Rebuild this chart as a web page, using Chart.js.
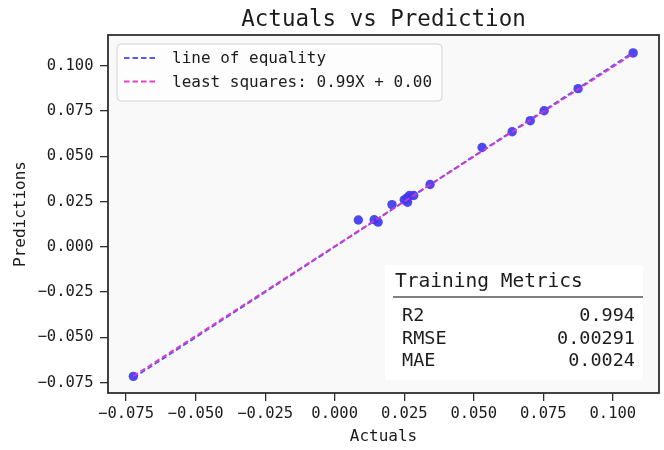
<!DOCTYPE html>
<html>
<head>
<meta charset="utf-8">
<script src="https://cdn.jsdelivr.net/npm/chart.js@4"></script>
<style>
  html, body { margin: 0; padding: 0; background: #ffffff; }
  #wrap { width: 664px; height: 450px; }
</style>
</head>
<body>
<div id="wrap"><canvas id="c" width="664" height="450"></canvas></div>
<script>
// ---- data ----
const actuals = [-0.0724, 0.0085, 0.0142, 0.0156, 0.0206, 0.0250, 0.0260, 0.0262, 0.0269, 0.0284, 0.0343, 0.0530, 0.0638, 0.0703, 0.0753, 0.0875, 0.1073];
const predictions = [-0.0715, 0.0148, 0.0149, 0.0136, 0.0233, 0.0259, 0.0270, 0.0246, 0.0283, 0.0283, 0.0344, 0.0548, 0.0635, 0.0696, 0.0751, 0.0873, 0.1070];
const lineX = [-0.0724, 0.1073];
const equalityY = [-0.0724, 0.1073];
const leastSquaresY = [-0.0714, 0.1065];
const xTicks = [-0.075, -0.050, -0.025, 0.000, 0.025, 0.050, 0.075, 0.100];
const yTicks = [-0.075, -0.050, -0.025, 0.000, 0.025, 0.050, 0.075, 0.100];
const xRange = [-0.0815, 0.1166];
const yRange = [-0.0807, 0.1169];
const seriesLabels = ['line of equality', 'least squares: 0.99X + 0.00'];
const metricsTitle = 'Training Metrics';
const metricNames = ['R2', 'RMSE', 'MAE'];
const metricValues = ['0.994', '0.00291', '0.0024'];

const MONO = '"DejaVu Sans Mono", monospace';
const TEXT = '#1c1c1c';
const SPINE = '#2e2e2e';
const colEq = 'rgba(72,72,238,0.9)';
const colLs = 'rgba(222,50,200,0.92)';
const colPts = 'rgba(62,56,238,0.92)';

function fmt(v) {
  const s = Math.abs(v).toFixed(3);
  return (v < -1e-9 ? '\u2212' : '') + s;
}

const framePlugin = {
  id: 'frame',
  beforeDatasetsDraw(chart) {
    const {ctx, chartArea: a} = chart;
    ctx.save();
    ctx.fillStyle = '#f9f9f9';
    ctx.fillRect(a.left, a.top, a.right - a.left, a.bottom - a.top);
    ctx.restore();
  },
  afterDatasetsDraw(chart) {
    const {ctx, chartArea: a} = chart;
    ctx.save();
    // spines
    ctx.strokeStyle = SPINE;
    ctx.lineWidth = 1.8;
    ctx.strokeRect(a.left, a.top, a.right - a.left, a.bottom - a.top);

    // legend box
    const lx = a.left + 9, ly = a.top + 9, lw = 325, lh = 57;
    ctx.beginPath();
    if (ctx.roundRect) ctx.roundRect(lx, ly, lw, lh, 4); else ctx.rect(lx, ly, lw, lh);
    ctx.fillStyle = 'rgba(253,253,253,0.9)';
    ctx.fill();
    ctx.strokeStyle = '#d4d4d4';
    ctx.lineWidth = 1;
    ctx.stroke();
    const ds = chart.data.datasets;
    const rows = [ds[1], ds[2]];
    ctx.font = '16px ' + MONO;
    ctx.textBaseline = 'middle';
    ctx.textAlign = 'left';
    rows.forEach((d, i) => {
      const yy = ly + 14 + i * 23.5;
      ctx.beginPath();
      ctx.setLineDash([5.5, 3]);
      ctx.strokeStyle = d.borderColor;
      ctx.lineWidth = 1.8;
      ctx.moveTo(lx + 7, yy);
      ctx.lineTo(lx + 41, yy);
      ctx.stroke();
      ctx.setLineDash([]);
      ctx.fillStyle = TEXT;
      ctx.fillText(d.label, lx + 55, yy + 1);
    });

    // metrics table
    const tx = 385, ty = 265, tw = 258, th = 115;
    ctx.fillStyle = '#ffffff';
    ctx.fillRect(tx, ty, tw, th);
    ctx.fillStyle = TEXT;
    ctx.font = '19.5px ' + MONO;
    ctx.textAlign = 'left';
    ctx.fillText(metricsTitle, tx + 10, ty + 17);
    ctx.beginPath();
    ctx.strokeStyle = '#555555';
    ctx.lineWidth = 1.6;
    ctx.moveTo(tx + 8, ty + 32);
    ctx.lineTo(tx + tw, ty + 32);
    ctx.stroke();
    ctx.font = '18.5px ' + MONO;
    metricNames.forEach((n, i) => {
      const yy = ty + 51.5 + i * 22.3;
      ctx.textAlign = 'left';
      ctx.fillText(n, tx + 17, yy);
      ctx.textAlign = 'right';
      ctx.fillText(metricValues[i], tx + 250, yy);
    });
    ctx.restore();
  }
};

new Chart(document.getElementById('c'), {
  type: 'scatter',
  data: {
    datasets: [
      {
        label: 'data',
        data: actuals.map((x, i) => ({x: x, y: predictions[i]})),
        backgroundColor: colPts,
        borderColor: colPts,
        pointRadius: 4.7,
        pointBorderWidth: 0,
        order: 3
      },
      {
        label: seriesLabels[0],
        type: 'line',
        data: lineX.map((x, i) => ({x: x, y: equalityY[i]})),
        borderColor: colEq,
        borderWidth: 1.9,
        borderDash: [5.5, 3],
        pointRadius: 0,
        fill: false,
        order: 2
      },
      {
        label: seriesLabels[1],
        type: 'line',
        data: lineX.map((x, i) => ({x: x, y: leastSquaresY[i]})),
        borderColor: colLs,
        borderWidth: 1.9,
        borderDash: [5.5, 3],
        pointRadius: 0,
        fill: false,
        order: 1
      }
    ]
  },
  options: {
    responsive: false,
    animation: false,
    devicePixelRatio: 1,
    layout: { padding: { left: 0, right: 5, top: 0, bottom: 0 } },
    plugins: {
      legend: { display: false },
      tooltip: { enabled: false },
      title: {
        display: true,
        text: 'Actuals vs Prediction',
        fullSize: false,
        color: TEXT,
        font: { family: MONO, size: 22.5, weight: 'normal', lineHeight: 1.0 },
        padding: { top: 8.5, bottom: 4 }
      }
    },
    scales: {
      x: {
        type: 'linear',
        min: xRange[0],
        max: xRange[1],
        afterBuildTicks(scale) { scale.ticks = xTicks.map(v => ({value: v})); },
        afterFit(scale) { scale.height = 57; },
        grid: { display: true, drawOnChartArea: false, drawTicks: true, tickLength: 8, color: SPINE, lineWidth: 1.3 },
        border: { display: false },
        ticks: {
          color: TEXT,
          font: { family: MONO, size: 15.5 },
          padding: 4,
          maxRotation: 0,
          autoSkip: false,
          callback: (v) => fmt(v)
        },
        title: {
          display: true,
          text: 'Actuals',
          color: TEXT,
          font: { family: MONO, size: 16 },
          padding: { top: 0, bottom: 3.5 }
        }
      },
      y: {
        type: 'linear',
        min: yRange[0],
        max: yRange[1],
        afterBuildTicks(scale) { scale.ticks = yTicks.map(v => ({value: v})); },
        afterFit(scale) { scale.width = 108; },
        grid: { display: true, drawOnChartArea: false, drawTicks: true, tickLength: 8, color: SPINE, lineWidth: 1.3 },
        border: { display: false },
        ticks: {
          color: TEXT,
          font: { family: MONO, size: 15.5 },
          padding: 6.5,
          autoSkip: false,
          callback: (v) => fmt(v)
        },
        title: {
          display: true,
          text: 'Predictions',
          color: TEXT,
          font: { family: MONO, size: 16 },
          padding: { top: 11.5, bottom: 0 }
        }
      }
    }
  },
  plugins: [framePlugin]
});
</script>
</body>
</html>
